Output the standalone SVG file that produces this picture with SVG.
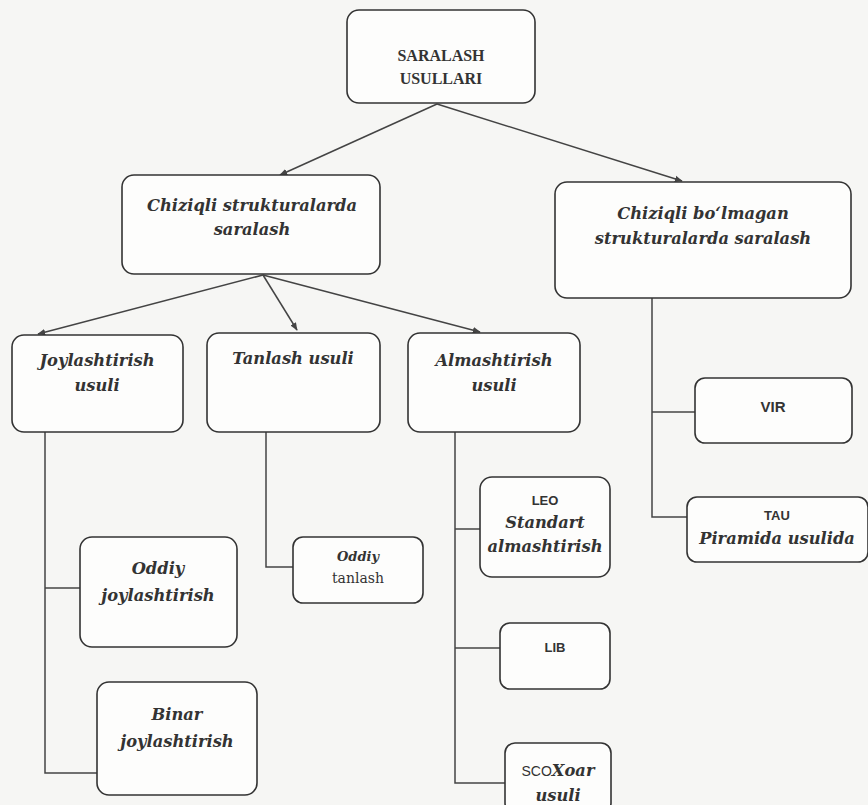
<svg xmlns="http://www.w3.org/2000/svg" width="868" height="805" viewBox="0 0 868 805">
<defs>
<marker id="ah" viewBox="0 0 10 10" refX="9" refY="5" markerWidth="8" markerHeight="8" orient="auto" markerUnits="userSpaceOnUse">
<path d="M0,1 L10,5 L0,9 z" fill="#444"/>
</marker>
<style>
.box{fill:#fdfdfc;stroke:#333;stroke-width:1.6}
.ln{fill:none;stroke:#444;stroke-width:1.5}
.t{font-family:"DejaVu Serif","Liberation Serif",serif;font-style:italic;font-weight:bold;font-size:16.3px;fill:#333;text-anchor:middle}
.b{font-family:"Liberation Serif","DejaVu Serif",serif;font-weight:bold;font-size:16px;fill:#333;text-anchor:middle}
.s{font-family:"Liberation Sans","DejaVu Sans",sans-serif;font-weight:bold;font-size:13px;fill:#333;text-anchor:middle}
</style>
</defs>
<rect width="868" height="805" fill="#f6f6f4"/>
<g id="connectors">
<line class="ln" x1="437" y1="104" x2="280" y2="175" marker-end="url(#ah)"/>
<line class="ln" x1="437" y1="104" x2="682" y2="181" marker-end="url(#ah)"/>
<line class="ln" x1="263" y1="275" x2="38" y2="334" marker-end="url(#ah)"/>
<line class="ln" x1="263" y1="275" x2="297" y2="330" marker-end="url(#ah)"/>
<line class="ln" x1="263" y1="275" x2="480" y2="332" marker-end="url(#ah)"/>
<polyline class="ln" points="45,432 45,773 97,773"/>
<line class="ln" x1="45" y1="588" x2="80" y2="588"/>
<polyline class="ln" points="266,432 266,567 293,567"/>
<polyline class="ln" points="455,432 455,783 505,783"/>
<line class="ln" x1="455" y1="529" x2="480" y2="529"/>
<line class="ln" x1="455" y1="648" x2="500" y2="648"/>
<polyline class="ln" points="652,298 652,517 687,517"/>
<line class="ln" x1="652" y1="412" x2="695" y2="412"/>
</g>
<g id="n-root">
<rect class="box" x="347" y="10" width="188" height="93" rx="12"/>
<text class="b" x="441" y="61">SARALASH</text>
<text class="b" x="441" y="84">USULLARI</text>
</g>
<g id="n-chiziqli">
<rect class="box" x="122" y="175" width="258" height="99" rx="12"/>
<text class="t" x="252" y="211">Chiziqli strukturalarda</text>
<text class="t" x="252" y="235">saralash</text>
</g>
<g id="n-nochiziqli">
<rect class="box" x="555" y="182" width="296" height="116" rx="12"/>
<text class="t" x="703" y="219">Chiziqli bo‘lmagan</text>
<text class="t" x="703" y="244">strukturalarda saralash</text>
</g>
<g id="n-joylash">
<rect class="box" x="12" y="335" width="171" height="97" rx="12"/>
<text class="t" x="97" y="366">Joylashtirish</text>
<text class="t" x="97" y="391">usuli</text>
</g>
<g id="n-tanlash">
<rect class="box" x="207" y="333" width="173" height="99" rx="12"/>
<text class="t" x="293" y="364">Tanlash usuli</text>
</g>
<g id="n-almash">
<rect class="box" x="408" y="333" width="172" height="99" rx="12"/>
<text class="t" x="494" y="366">Almashtirish</text>
<text class="t" x="494" y="391">usuli</text>
</g>
<g id="n-oddiyj">
<rect class="box" x="80" y="537" width="157" height="110" rx="12"/>
<text class="t" x="158" y="574">Oddiy</text>
<text class="t" x="158" y="601">joylashtirish</text>
</g>
<g id="n-binar">
<rect class="box" x="97" y="682" width="160" height="113" rx="12"/>
<text class="t" x="177" y="720">Binar</text>
<text class="t" x="177" y="747">joylashtirish</text>
</g>
<g id="n-oddiyt">
<rect class="box" x="293" y="537" width="130" height="66" rx="10"/>
<text class="t" x="358" y="561" style="font-size:13px">Oddiy</text>
<text x="358" y="583" style="font-family:'DejaVu Serif','Liberation Serif',serif;font-size:14px;fill:#333;text-anchor:middle">tanlash</text>
</g>
<g id="n-leo">
<rect class="box" x="480" y="477" width="130" height="100" rx="12"/>
<text class="s" x="545" y="505">LEO</text>
<text class="t" x="545" y="528">Standart</text>
<text class="t" x="545" y="552">almashtirish</text>
</g>
<g id="n-lib">
<rect class="box" x="500" y="623" width="110" height="66" rx="10"/>
<text class="s" x="555" y="652">LIB</text>
</g>
<g id="n-sco">
<rect class="box" x="505" y="743" width="106" height="70" rx="10"/>
<text class="t" x="558" y="776"><tspan style="font-family:'Liberation Sans','DejaVu Sans',sans-serif;font-style:normal;font-weight:normal;font-size:14px">SCO</tspan>Xoar</text>
<text class="t" x="558" y="801">usuli</text>
</g>
<g id="n-vir">
<rect class="box" x="695" y="378" width="157" height="65" rx="10"/>
<text class="s" x="773" y="412" style="font-size:15px">VIR</text>
</g>
<g id="n-tau">
<rect class="box" x="687" y="497" width="181" height="65" rx="10"/>
<text class="s" x="777" y="520">TAU</text>
<text class="t" x="777" y="544">Piramida usulida</text>
</g>
</svg>
